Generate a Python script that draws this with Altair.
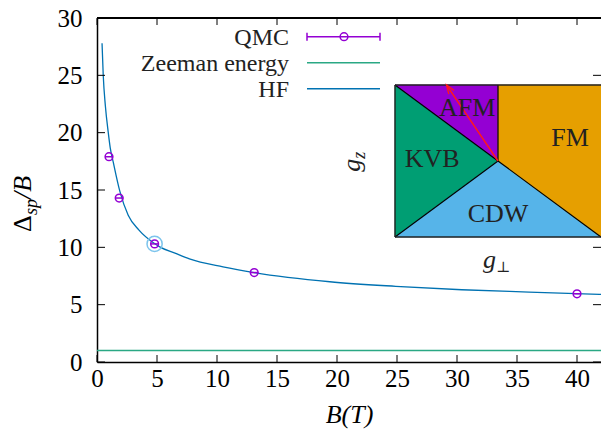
import altair as alt
import pandas as pd

FONT = "Liberation Serif"
FONT_SYM = "DejaVu Serif"

# ---------------- data ----------------
qmc_B = [1.0, 1.85, 4.8, 13.1, 40.0]
qmc_val = [17.9, 14.3, 10.3, 7.8, 5.95]
highlight_B = [4.8]
highlight_val = [10.3]

hf_B = [0.42, 0.52, 0.7, 0.94, 1.1, 1.36, 1.9, 2.6, 3.5, 4.7, 5.3, 6.5, 7.7,
        10.5, 13.1, 19.4, 24.9, 30.4, 36.0, 42.0]
hf_val = [27.8, 25.0, 22.3, 20.0, 18.7, 17.4, 14.9, 12.8, 11.5, 10.4, 10.0, 9.5,
          9.0, 8.3, 7.8, 7.0, 6.6, 6.3, 6.1, 5.9]

zeeman_val = [1.0]

x_ticks = [0, 5, 10, 15, 20, 25, 30, 35, 40]
y_ticks = [0, 5, 10, 15, 20, 25, 30]

legend_labels = ["QMC", "Zeeman energy", "HF"]
legend_colors = ["#9400D3", "#2aa884", "#0072B2"]

# inset phase diagram (normalised g_perp, g_z coordinates)
region_names = ["KVB", "KVB", "AFM", "AFM", "CDW", "CDW", "CDW", "FM", "FM"]
region_u = [0.0, 0.5, 0.0, 0.5, 0.0, 0.5, 1.0, 0.5, 1.0]
region_lo = [0.0, 0.5, 1.0, 0.5, 0.0, 0.0, 0.0, 0.5, 0.0]
region_hi = [1.0, 0.5, 1.0, 1.0, 0.0, 0.5, 0.0, 1.0, 1.0]
region_colors = {"KVB": "#009E73", "AFM": "#9400D3", "CDW": "#56B4E9", "FM": "#E69F00"}

edge_u = [0.0, 0.0, 0.5, 0.5]
edge_w = [1.0, 0.0, 0.5, 0.5]
edge_u2 = [0.5, 0.5, 1.0, 0.5]
edge_w2 = [0.5, 0.5, 0.0, 1.0]

phase_labels = ["AFM", "FM", "KVB", "CDW"]
phase_u = [0.35, 0.85, 0.18, 0.5]
phase_w = [0.855, 0.66, 0.52, 0.16]

arrow_from = (0.5, 0.5)
arrow_to = (0.25, 1.0)

# ---------------- frames ----------------
hf_df = pd.DataFrame({"B": hf_B, "v": hf_val})
qmc_df = pd.DataFrame({"B": qmc_B, "v": qmc_val})
hl_df = pd.DataFrame({"B": highlight_B, "v": highlight_val})
zee_df = pd.DataFrame({"v": zeeman_val})
xt_df = pd.DataFrame({"B": x_ticks})
yt_df = pd.DataFrame({"v": y_ticks})

W, H = 504, 344
x_scale = alt.Scale(domain=[0, 42], nice=False, zero=False)
y_scale = alt.Scale(domain=[0, 30], nice=False, zero=False)

x_axis = alt.Axis(values=x_ticks, title="B(T)", ticks=False, grid=False, labelFlush=False,
                  labelOverlap=False,
                  labelFont=FONT, labelFontSize=25, labelColor="black", labelPadding=4,
                  domainColor="black", domainWidth=1.5,
                  titleFont=FONT, titleFontSize=26, titleFontStyle="italic",
                  titleFontWeight="normal", titleColor="black", titlePadding=10)
y_axis = alt.Axis(values=y_ticks, title=None, ticks=False, grid=False, labelFlush=False,
                  labelOverlap=False,
                  labelFont=FONT, labelFontSize=25, labelColor="black", labelPadding=15,
                  domainColor="black", domainWidth=1.5)

X = lambda ax=None: alt.X("B:Q", scale=x_scale, axis=ax) if ax is not None else alt.X("B:Q", scale=x_scale)
Y = lambda ax=None: alt.Y("v:Q", scale=y_scale, axis=ax) if ax is not None else alt.Y("v:Q", scale=y_scale)

zeeman = alt.Chart(zee_df).mark_rule(color=legend_colors[1], strokeWidth=1.6).encode(y=Y())

hf = alt.Chart(hf_df).mark_line(color="#0072B2", strokeWidth=1.3, interpolate="monotone").encode(
    x=X(x_axis), y=Y(y_axis))

ring = alt.Chart(hl_df).mark_point(shape="circle", filled=False, size=230, color="#7cc4ec",
                                   strokeWidth=1.5, opacity=1).encode(x=X(), y=Y())
qmc_pts = alt.Chart(qmc_df).mark_point(shape="circle", filled=False, size=60, color="#9400D3",
                                       strokeWidth=1.5, opacity=1).encode(x=X(), y=Y())
qmc_bar = alt.Chart(qmc_df).mark_point(shape="M-1,0L1,0", filled=False, size=64, strokeWidth=1.5,
                                       color="#9400D3", opacity=1).encode(x=X(), y=Y())

tick_style = dict(color="black", strokeWidth=1)
bt = alt.Chart(xt_df).mark_rule(**tick_style).encode(x=X(), y=alt.value(H), y2=alt.value(H - 7))
tt = alt.Chart(xt_df).mark_rule(**tick_style).encode(x=X(), y=alt.value(0), y2=alt.value(7))
lt = alt.Chart(yt_df).mark_rule(**tick_style).encode(y=Y(), x=alt.value(0), x2=alt.value(8))
rt = alt.Chart(yt_df).mark_rule(**tick_style).encode(y=Y(), x=alt.value(W - 8), x2=alt.value(W))
top_border = alt.Chart(xt_df).mark_rule(color="black", strokeWidth=1.5).encode(
    x=alt.value(0), x2=alt.value(W), y=alt.value(0))

# y-axis title  Δ_sp / B  (composed)
title_df = pd.DataFrame({"t": ["Δ"]})
yt_base = dict(font=FONT, angle=270, align="left", baseline="alphabetic", color="black")
yt1 = alt.Chart(title_df).mark_text(text="Δ", fontSize=26, **yt_base).encode(
    x=alt.value(-66), y=alt.value(214))
yt2 = alt.Chart(title_df).mark_text(text="sp", fontSize=18, fontStyle="italic", dx=17, dy=6,
                                    **yt_base).encode(x=alt.value(-66), y=alt.value(214))
yt3 = alt.Chart(title_df).mark_text(text="/B", fontSize=26, fontStyle="italic", dx=33,
                                    **yt_base).encode(x=alt.value(-66), y=alt.value(214))

# legend
leg_layers = []
for i, (lab, col) in enumerate(zip(legend_labels, legend_colors)):
    yy = 18.7 + 26 * i
    d = pd.DataFrame({"t": [lab]})
    leg_layers.append(alt.Chart(d).mark_text(text=lab, font=FONT, fontSize=24, color="#222",
                                             align="right", baseline="middle", dy=1).encode(
        x=alt.value(192), y=alt.value(yy)))
    leg_layers.append(alt.Chart(d).mark_rule(color=col, strokeWidth=1.5).encode(
        x=alt.value(210), x2=alt.value(283), y=alt.value(yy)))
    if i == 0:
        for cx in (210, 283):
            leg_layers.append(alt.Chart(d).mark_rule(color=col, strokeWidth=1.5).encode(
                x=alt.value(cx), y=alt.value(yy - 4), y2=alt.value(yy + 4)))
        leg_layers.append(alt.Chart(d).mark_point(shape="circle", filled=False, size=60,
                                                  color=col, strokeWidth=1.5, opacity=1).encode(
            x=alt.value(247), y=alt.value(yy)))

main = alt.layer(zeeman, hf, ring, qmc_bar, qmc_pts, bt, tt, lt, rt, top_border,
                 yt1, yt2, yt3, *leg_layers)

# ---------------- inset ----------------
u_scale = alt.Scale(domain=[0, 1], range=[298, 504], nice=False, zero=False)
w_scale = alt.Scale(domain=[0, 1], range=[219, 67], nice=False, zero=False)
U = lambda f="u": alt.X(f"{f}:Q", scale=u_scale, axis=None)
Wf = lambda f="w": alt.Y(f"{f}:Q", scale=w_scale, axis=None)

reg_df = pd.DataFrame({"region": region_names, "u": region_u, "w": region_lo, "w2": region_hi})
areas = alt.Chart(reg_df).mark_area(opacity=1, strokeWidth=0.5).encode(
    x=U(), y=Wf(), y2="w2:Q",
    color=alt.Color("region:N", scale=alt.Scale(domain=list(region_colors.keys()),
                                                range=list(region_colors.values())), legend=None),
    stroke=alt.Stroke("region:N", scale=alt.Scale(domain=list(region_colors.keys()),
                                                  range=list(region_colors.values())), legend=None),
    detail="region:N")

edge_df = pd.DataFrame({"u": edge_u, "w": edge_w, "u2": edge_u2, "w2": edge_w2})
edges = alt.Chart(edge_df).mark_rule(color="black", strokeWidth=1.2).encode(
    x=U(), y=Wf(), x2="u2:Q", y2="w2:Q")

box_df = pd.DataFrame({"u": [0.0, 0.0, 0.0], "w": [0.0, 1.0, 0.0],
                       "u2": [1.0, 1.0, 0.0], "w2": [0.0, 1.0, 1.0]})
box = alt.Chart(box_df).mark_rule(color="#222", strokeWidth=1.4).encode(
    x=U(), y=Wf(), x2="u2:Q", y2="w2:Q")

arr_df = pd.DataFrame({"u": [arrow_from[0]], "w": [arrow_from[1]],
                       "u2": [arrow_to[0]], "w2": [arrow_to[1]]})
arrow = alt.Chart(arr_df).mark_rule(color="#ff1a1a", strokeWidth=1.4).encode(
    x=U(), y=Wf(), x2="u2:Q", y2="w2:Q")
head_df = pd.DataFrame({"u": [arrow_to[0]], "w": [arrow_to[1]]})
head = alt.Chart(head_df).mark_point(shape="M-0.45,1.25L0,0L0.45,1.25", filled=False, size=200,
                                     color="#ff1a1a", strokeWidth=1.4, opacity=1,
                                     angle=326).encode(x=U(), y=Wf())

lab_df = pd.DataFrame({"u": phase_u, "w": phase_w, "t": phase_labels})
labels = alt.Chart(lab_df).mark_text(font=FONT, fontSize=26, color="#222", align="center",
                                     baseline="middle", dy=1).encode(x=U(), y=Wf(), text="t:N")

gz_df = pd.DataFrame({"u": [-0.17], "w": [0.43]})
gz1 = alt.Chart(gz_df).mark_text(text="g", font=FONT, fontSize=26, fontStyle="italic", angle=270,
                                 align="left", baseline="alphabetic", color="#222").encode(x=U(), y=Wf())
gz2 = alt.Chart(gz_df).mark_text(text="z", font=FONT, fontSize=18, fontStyle="italic", angle=270,
                                 align="left", baseline="alphabetic", dx=13, dy=5,
                                 color="#222").encode(x=U(), y=Wf())
gp_df = pd.DataFrame({"u": [0.427], "w": [-0.204]})
gp1 = alt.Chart(gp_df).mark_text(text="g", font=FONT, fontSize=26, fontStyle="italic",
                                 align="left", baseline="alphabetic", color="#222").encode(x=U(), y=Wf())
gp2 = alt.Chart(gp_df).mark_text(text="⊥", font=FONT_SYM, fontSize=15, align="left",
                                 baseline="alphabetic", dx=13, dy=4, color="#222").encode(x=U(), y=Wf())

inset = alt.layer(areas, edges, box, arrow, head, labels, gz1, gz2, gp1, gp2)

chart = alt.layer(main, inset).resolve_scale(x="independent", y="independent").properties(
    width=W, height=H,
    autosize=alt.AutoSizeParams(type="none"),
    padding={"left": 97, "top": 18, "right": 0, "bottom": 78},
).configure_view(stroke=None).configure(background="white")

chart.save("out.html", embed_options={"renderer": "svg", "actions": False})
